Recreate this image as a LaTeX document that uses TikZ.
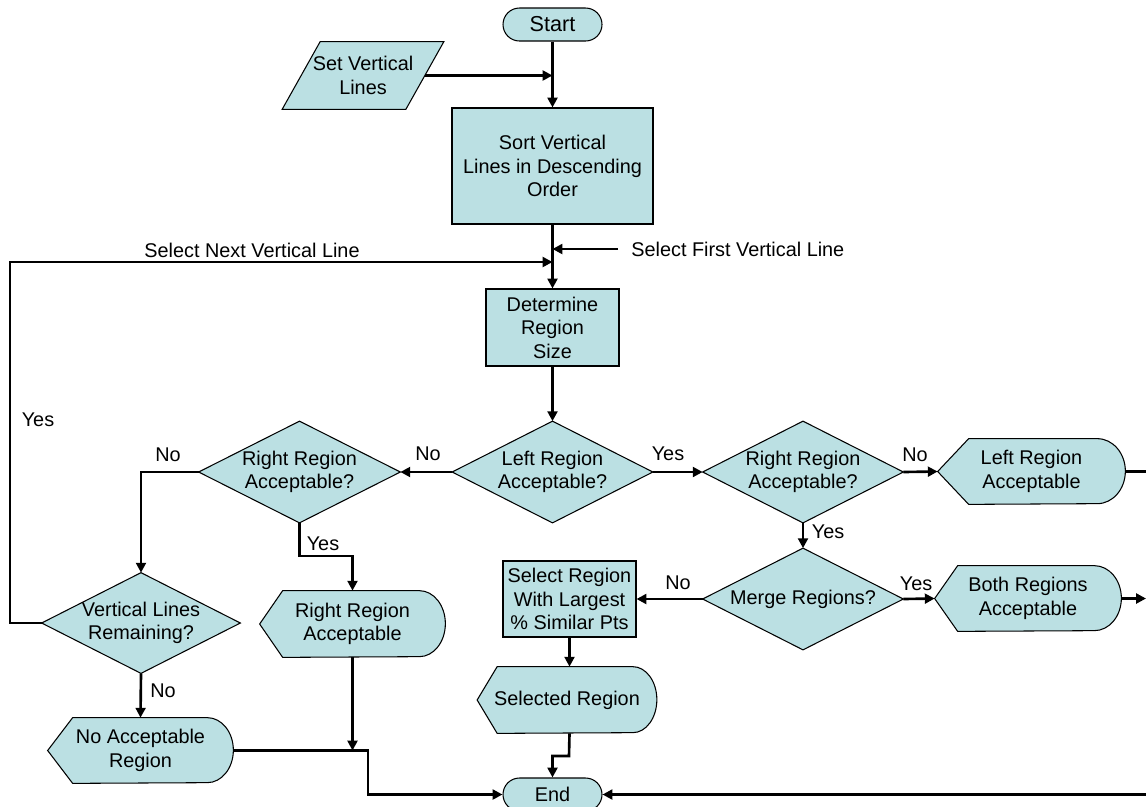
\documentclass[tikz,border=0pt]{standalone}
\usepackage{fontspec}
\setmainfont{Liberation Sans}
\usetikzlibrary{arrows.meta,backgrounds,calc}
\newdimen\pxu \pxu=0.02cm
\definecolor{boxfill}{HTML}{BBE0E3}
% display shape: #1 node, #2 point depth, #3 arc radius, #4 half height (px)
\newcommand\dispshape[4]{%
  \filldraw[shapeline] (#1.west) -- ([xshift=#2\pxu]#1.north west) -- ([xshift=-#3\pxu]#1.north east)
    arc[start angle=90,end angle=-90,x radius=#3\pxu,y radius=#4\pxu]
    -- ([xshift=#2\pxu]#1.south west) -- cycle;}
\newcommand\diashape[1]{%
  \filldraw[shapeline] (#1.north) -- (#1.east) -- (#1.south) -- (#1.west) -- cycle;}
\tikzset{
  shapeline/.style={draw=black, fill=boxfill, line width=0.6pt},
  txt/.style={font=\fontsize{11.3}{13.4}\selectfont, align=center, inner sep=0pt},
  holder/.style={txt, rectangle},
  procbox/.style={txt, rectangle, shapeline},
  term/.style={txt, rectangle, shapeline, rounded corners=16.5\pxu, minimum width=99\pxu, minimum height=33\pxu},
  arr/.style={line width=1.5pt, -{Triangle[length=5.6pt,width=5.6pt]}},
  conn/.style={line width=1.5pt},
}
\begin{document}
\begin{tikzpicture}[x=0.02cm, y=-0.02cm]
\useasboundingbox (0,0) rectangle (1146,806);

% nodes
\node[term, font=\fontsize{12.3}{14}\selectfont] (start) at (552.5,24.5) {Start};
\node[holder, minimum width=123\pxu, minimum height=67\pxu] (setvl) at (363,75.5) {Set Vertical\\Lines};
\node[procbox, minimum width=201\pxu, minimum height=116\pxu] (sort) at (552.5,166) {Sort Vertical\\Lines in Descending\\Order};
\node[procbox, minimum width=133\pxu, minimum height=77\pxu] (det) at (552.5,327.5) {Determine\\Region\\Size};
\node[holder, minimum width=200\pxu, minimum height=101\pxu] (lra) at (552.5,472) {Left Region\\Acceptable?};
\node[holder, minimum width=201\pxu, minimum height=101\pxu] (rla) at (299.5,472) {Right Region\\Acceptable?};
\node[holder, minimum width=200\pxu, minimum height=101\pxu] (rra) at (803,472) {Right Region\\Acceptable?};
\node[holder, minimum width=187\pxu, minimum height=65\pxu] (lrd) at (1031.5,471.5) {Left Region\\Acceptable};
\node[holder, minimum width=198\pxu, minimum height=100\pxu] (vlr) at (141,623) {Vertical Lines\\Remaining?};
\node[holder, minimum width=185\pxu, minimum height=66\pxu] (rrd) at (352.5,624) {Right Region\\Acceptable};
\node[holder, minimum width=200\pxu, minimum height=101\pxu] (merge) at (803,599) {Merge Regions?};
\node[procbox, minimum width=133\pxu, minimum height=76\pxu] (selbox) at (569.5,599) {Select Region\\With Largest\\\% Similar Pts};
\node[holder, minimum width=186\pxu, minimum height=65\pxu] (both) at (1028,598.5) {Both Regions\\Acceptable};
\node[holder, minimum width=179\pxu, minimum height=66\pxu] (selreg) at (567,700) {Selected Region};
\node[holder, minimum width=185\pxu, minimum height=65\pxu] (nar) at (140.5,750.5) {No Acceptable\\Region};
\node[term] (end) at (552.5,794.5) {End};

% shapes behind the texts
\begin{scope}[on background layer]
  \filldraw[shapeline] ([xshift=19\pxu]setvl.north west) -- ([xshift=19\pxu]setvl.north east)
    -- ([xshift=-19\pxu]setvl.south east) -- ([xshift=-19\pxu]setvl.south west) -- cycle;
  \diashape{lra}
  \diashape{rla}
  \diashape{rra}
  \diashape{vlr}
  \diashape{merge}
  \dispshape{lrd}{31}{28}{32.5}
  \dispshape{rrd}{23}{26}{33}
  \dispshape{both}{23}{27}{32.5}
  \dispshape{selreg}{20}{24}{33}
  \dispshape{nar}{25}{26}{32.5}
\end{scope}

% labels
\node[txt] (snl) at (252,250) {Select Next Vertical Line};
\node[txt, anchor=west] (sfl) at (631,249) {Select First Vertical Line};
\node[txt] (l1) at (428,454) {No};
\node[txt] (l2) at (668,454) {Yes};
\node[txt] (l3) at (915,455) {No};
\node[txt] (l4) at (828,532) {Yes};
\node[txt] (l5) at (916,584) {Yes};
\node[txt] (l6) at (678,583) {No};
\node[txt] (l7) at (168,455) {No};
\node[txt] (l8) at (323,544) {Yes};
\node[txt] (l9) at (163,691) {No};
\node[txt] (l10) at (38,420) {Yes};

% helper coordinates
\coordinate (sfstart) at (618,249);
\coordinate (loopc) at (10,262);
\coordinate (k3) at (299.5,556);
\coordinate (k1) at (569,756);
\coordinate (k2) at (368,794.5);
\coordinate (rtop) at (1146,471.5);
\coordinate (rmid) at (1146,598.5);
\coordinate (rbot) at (1146,794.5);

% connectors
\draw[arr] (start) -- (sort);
\draw[arr] (setvl.east) -- (setvl.east -| start.south);
\draw[arr] (sort) -- (det);
\draw[arr] (sfstart) -- (sfstart -| sort.south);
\draw[arr] (vlr.west) -| (loopc) -- (loopc -| det.north);
\draw[arr] (det) -- (lra);
\draw[arr] (lra.west) -- (rla.east);
\draw[arr] (lra.east) -- (rra.west);
\draw[arr] (rra.east) -- (lrd.west);
\draw[conn] (lrd.east) -- (rtop);
\draw[arr] (rra.south) -- (merge.north);
\draw[arr] (merge.east) -- (both.west);
\draw[arr] (both.east) -- (rmid);
\draw[arr] (merge.west) -- (selbox.east);
\draw[arr] (selbox.south) -- (selbox.south |- selreg.north);
\draw[arr] (selbox.south |- selreg.south) -- (k1) -| (end.north);
\draw[arr] (rbot) -- (end.east);
\draw[arr] (rla.west) -| (vlr.north);
\draw[arr] (vlr.south) -- (nar.north);
\draw[arr] (rla.south) -- (k3) -| (rrd.north);
\draw[arr] (rrd.south) -- (rrd.south |- nar.east);
\draw[arr] (nar.east) -| (k2) -- (end.west);
\end{tikzpicture}
\end{document}
